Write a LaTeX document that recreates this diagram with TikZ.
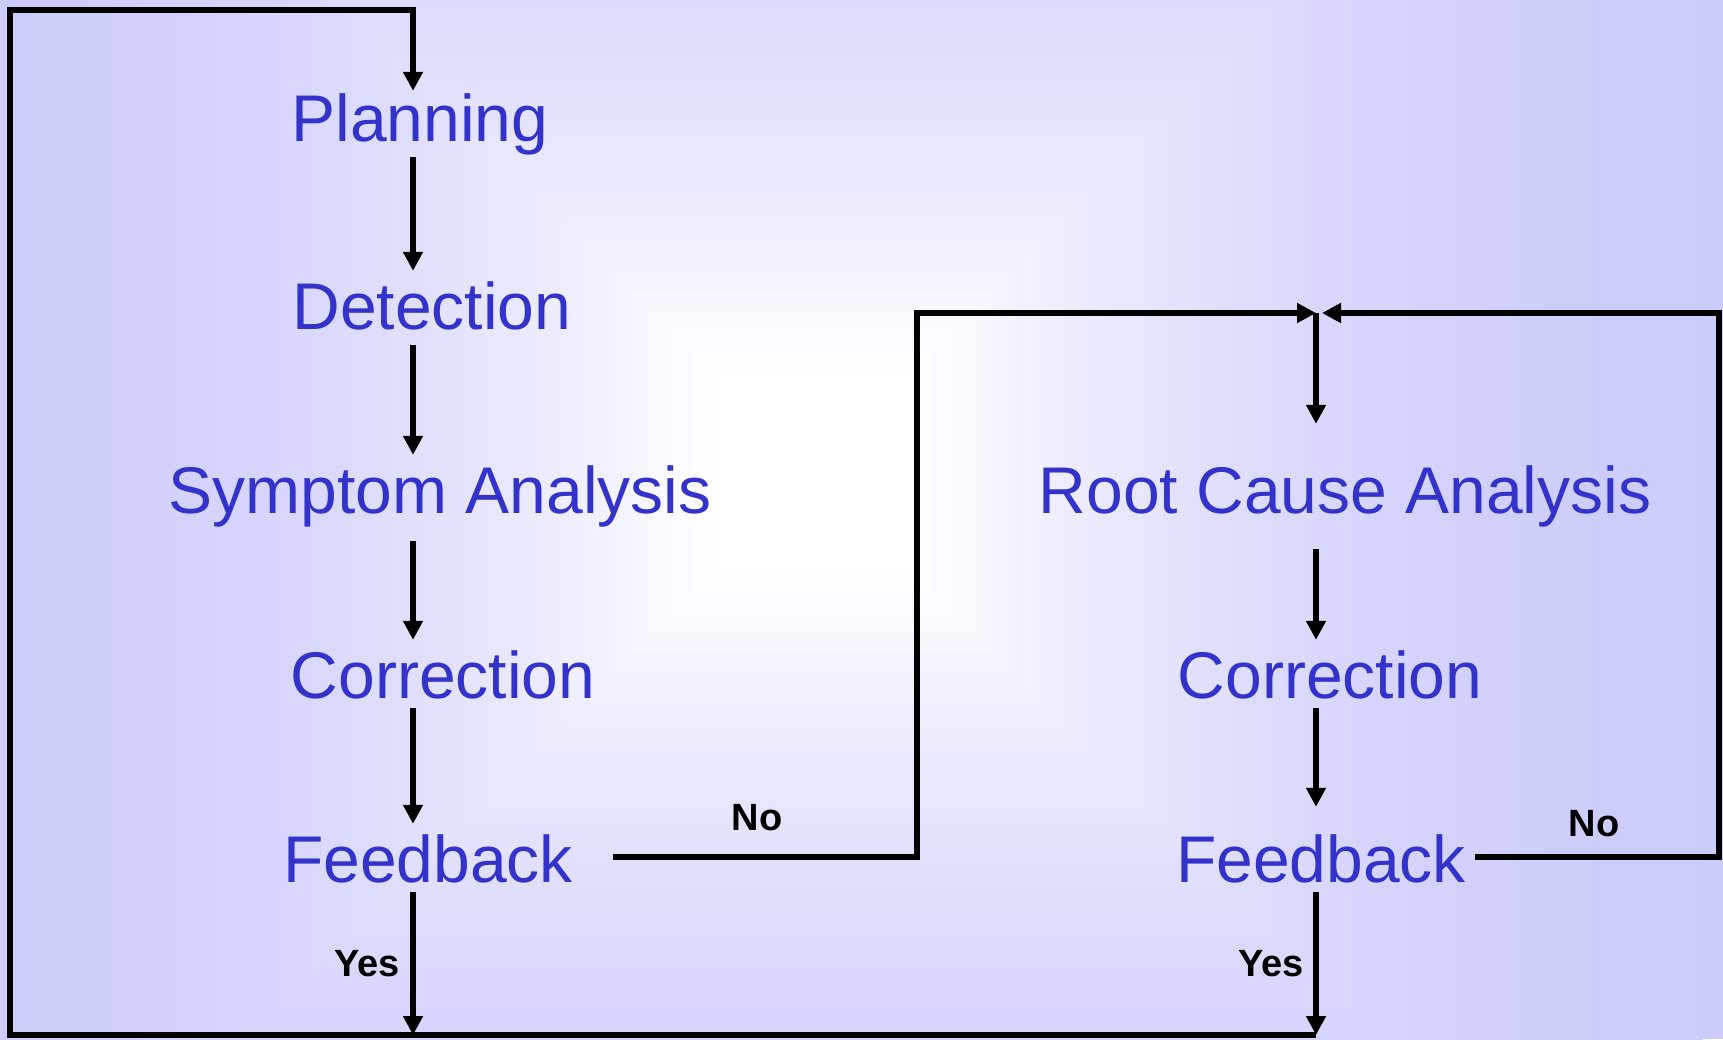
\documentclass[tikz,border=0pt]{standalone}
\usepackage{fontspec}
\setmainfont{Liberation Sans}
\usetikzlibrary{arrows.meta}
\definecolor{bgedge}{RGB}{204,204,251}
\definecolor{stepblue}{RGB}{51,51,204}
\begin{document}
\begin{tikzpicture}[x=1pt,y=-1pt,
  stage/.style={anchor=base, text=stepblue, font=\fontsize{66}{70}\selectfont,
    inner xsep=0pt, inner ysep=10pt, text height=48pt, text depth=6pt},
  lbl/.style={anchor=base, font=\bfseries\fontsize{38}{40}\selectfont, inner sep=0pt},
  flow/.style={line width=5.5pt, -{Triangle[length=19pt,width=19pt]}},
]
\useasboundingbox (0,0) rectangle (1723,1039);

% background: square "from centre" gradient, white in the middle
\fill[bgedge] (0,0) rectangle (1723,1039);
\begin{scope}
  \clip (0,0) rectangle (1723,1039);
  \foreach \d in {890,880,...,10} {
    \pgfmathsetmacro\q{max(0,(\d-100)/800)}
    \pgfmathtruncatemacro\p{100*(1-(1-\q)^2)}
    \fill[bgedge!\p!white] (813-\d,472-\d) rectangle (813+\d,472+\d);
  }
\end{scope}

% process steps
\node[stage] (plan) at (420,141) {Planning};
\node[stage] (det)  at (432,329) {Detection};
\node[stage, text depth=18pt] (sym) at (440,513) {Symptom Analysis};
\node[stage, text depth=0pt] (cor1) at (443,698) {Correction};
\node[stage, text depth=0pt] (fb1)  at (428,882) {Feedback};
\node[stage, text depth=18pt, inner ysep=18pt] (rca) at (1345,513) {Root Cause Analysis};
\node[stage, text depth=0pt] (cor2) at (1330,698) {Correction};
\node[stage, text depth=0pt] (fb2)  at (1321,882) {Feedback};

% routing points
\coordinate (colL) at (413,0);
\coordinate (colR) at (1316,0);
\coordinate (tl) at (10,10);
\coordinate (tr) at (413,10);
\coordinate (bl) at (10,1035);
\coordinate (bL) at (413,1035);
\coordinate (bR) at (1316,1035);
\coordinate (no1) at (613,857);
\coordinate (no1b) at (917,857);
\coordinate (no1t) at (917,313);
\coordinate (merge) at (1316,313);
\coordinate (no2) at (1475,857);
\coordinate (no2b) at (1719,857);
\coordinate (no2t) at (1719,313);

% return loop back to planning
\draw[flow, shorten >=-8pt] (bR) -- (bl) -- (tl) -- (tr) -- (plan.north -| colL);

% left column
\draw[flow] (plan.south -| colL) -- (det.north -| colL);
\draw[flow] (det.south -| colL) -- (sym.north -| colL);
\draw[flow] (sym.south -| colL) -- (cor1.north -| colL);
\draw[flow] (cor1.south -| colL) -- (fb1.north -| colL);
\draw[flow] (fb1.south -| colL) -- (bL);

% "No" branches into root cause analysis
\draw[flow] (no1) -- (no1b) -- (no1t) -- (merge);
\draw[flow, shorten >=6pt] (no2) -- (no2b) -- (no2t) -- (merge);

% right column
\draw[flow, shorten >=23pt] (merge) -- (rca.north -| colR);
\draw[flow] (rca.south -| colR) -- (cor2.north -| colR);
\draw[flow, shorten >=17pt] (cor2.south -| colR) -- (fb2.north -| colR);
\draw[flow] (fb2.south -| colR) -- (bR);

% branch labels
\node[lbl] (no1l) at (757,830) {No};
\node[lbl] (no2l) at (1594,836) {No};
\node[lbl] (yes1) at (367,976) {Yes};
\node[lbl] (yes2) at (1271,976) {Yes};
\end{tikzpicture}
\end{document}
